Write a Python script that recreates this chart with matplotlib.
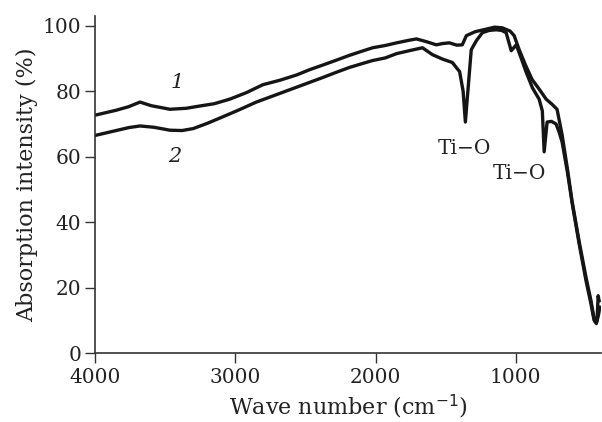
import matplotlib
matplotlib.use("Agg")
import matplotlib.pyplot as plt

# Curve 1 (upper on the left)
wn1 = [4000, 3920, 3850, 3760, 3680, 3600, 3466, 3350, 3253, 3150, 3039, 2920, 2804, 2680,
       2562, 2470, 2377, 2280, 2185, 2100, 2021, 1930, 1850, 1760, 1708, 1640, 1566, 1520,
       1473, 1420, 1381, 1352, 1290, 1210, 1150, 1096, 1040, 1011, 975, 930, 883, 830,
       783, 740, 705, 669, 630, 598, 548, 498, 463, 441, 420, 412, 405]
y1 = [72.7, 73.5, 74.2, 75.3, 76.7, 75.6, 74.5, 74.8, 75.5, 76.2, 77.6, 79.6, 82.0, 83.4,
      85.0, 86.6, 88.0, 89.5, 91.0, 92.2, 93.3, 94.0, 94.8, 95.6, 96.0, 95.2, 94.2, 94.6,
      94.8, 94.1, 94.2, 97.0, 98.2, 99.0, 99.6, 99.4, 98.4, 97.0, 92.7, 88.0, 83.6, 80.5,
      77.6, 76.0, 74.5, 66.7, 56.0, 46.4, 34.2, 23.0, 16.0, 10.5, 9.8, 17.5, 16.0]

# Curve 2 (lower on the left)
wn2 = [4000, 3920, 3850, 3760, 3680, 3580, 3466, 3380, 3300, 3200, 3100, 2980, 2850, 2730,
       2610, 2490, 2377, 2280, 2185, 2100, 2021, 1930, 1850, 1760, 1665, 1594, 1520, 1452,
       1400, 1375, 1359, 1345, 1317, 1280, 1238, 1190, 1139, 1100, 1068, 1032, 996, 960,
       925, 880, 833, 810, 797, 776, 745, 712, 690, 669, 630, 598, 548, 498, 463, 441,
       425, 410, 400]
y2 = [66.5, 67.3, 68.0, 68.9, 69.4, 69.0, 68.1, 68.0, 68.6, 70.2, 72.0, 74.2, 76.7, 78.6,
      80.5, 82.4, 84.2, 85.8, 87.3, 88.4, 89.4, 90.2, 91.5, 92.4, 93.3, 91.2, 89.8, 88.8,
      86.0, 80.0, 70.6, 78.0, 92.7, 95.5, 97.9, 98.6, 98.8, 98.6, 97.9, 92.4, 94.2, 90.0,
      85.8, 81.0, 77.6, 74.0, 61.5, 70.6, 70.8, 70.0, 67.5, 64.5, 55.0, 46.0, 33.5, 22.0,
      15.0, 10.0, 9.0, 11.5, 14.0]

x_ticks = [4000, 3000, 2000, 1000]
y_ticks = [0, 20, 40, 60, 80, 100]

curve_labels = ["1", "2"]
curve_label_pos = [(3416, 82.7), (3430, 60.0)]
peak_labels = ["Ti\u2212O", "Ti\u2212O"]
peak_label_pos = [(1367, 62.5), (975, 54.8)]

plt.rcParams['font.family'] = ['DejaVu Serif']

fig = plt.figure(figsize=(6.02, 4.22), dpi=100)
ax = fig.add_axes([0.158, 0.1635, 0.84, 0.7985])

ax.plot(wn1, y1, color='#151515', lw=2.4, solid_joinstyle='round')
ax.plot(wn2, y2, color='#151515', lw=2.4, solid_joinstyle='round')

ax.set_xlim(4000, 393)
ax.set_ylim(0, 103)
ax.set_xticks(x_ticks)
ax.set_yticks(y_ticks)
ax.tick_params(direction='out', length=7, width=1, labelsize=14.5, color='#333333',
               labelcolor='#222222')
ax.tick_params(axis='x', pad=4)
ax.tick_params(axis='y', pad=3)

for s in ['top', 'right']:
    ax.spines[s].set_visible(False)
for s in ['left', 'bottom']:
    ax.spines[s].set_color('#333333')
    ax.spines[s].set_linewidth(1.2)

ax.set_xlabel('Wave number (cm$^{-1}$)', fontsize=16, color='#222222', labelpad=4)
ax.set_ylabel('Absorption intensity (%)', fontsize=16, color='#222222', labelpad=3)

for lab, (x, y) in zip(curve_labels, curve_label_pos):
    ax.text(x, y, lab, fontsize=15, style='italic', ha='center', va='center', color='#222222')
for lab, (x, y) in zip(peak_labels, peak_label_pos):
    ax.text(x, y, lab, fontsize=14.5, ha='center', va='center', color='#222222')

fig.savefig('out.png', dpi=100)
